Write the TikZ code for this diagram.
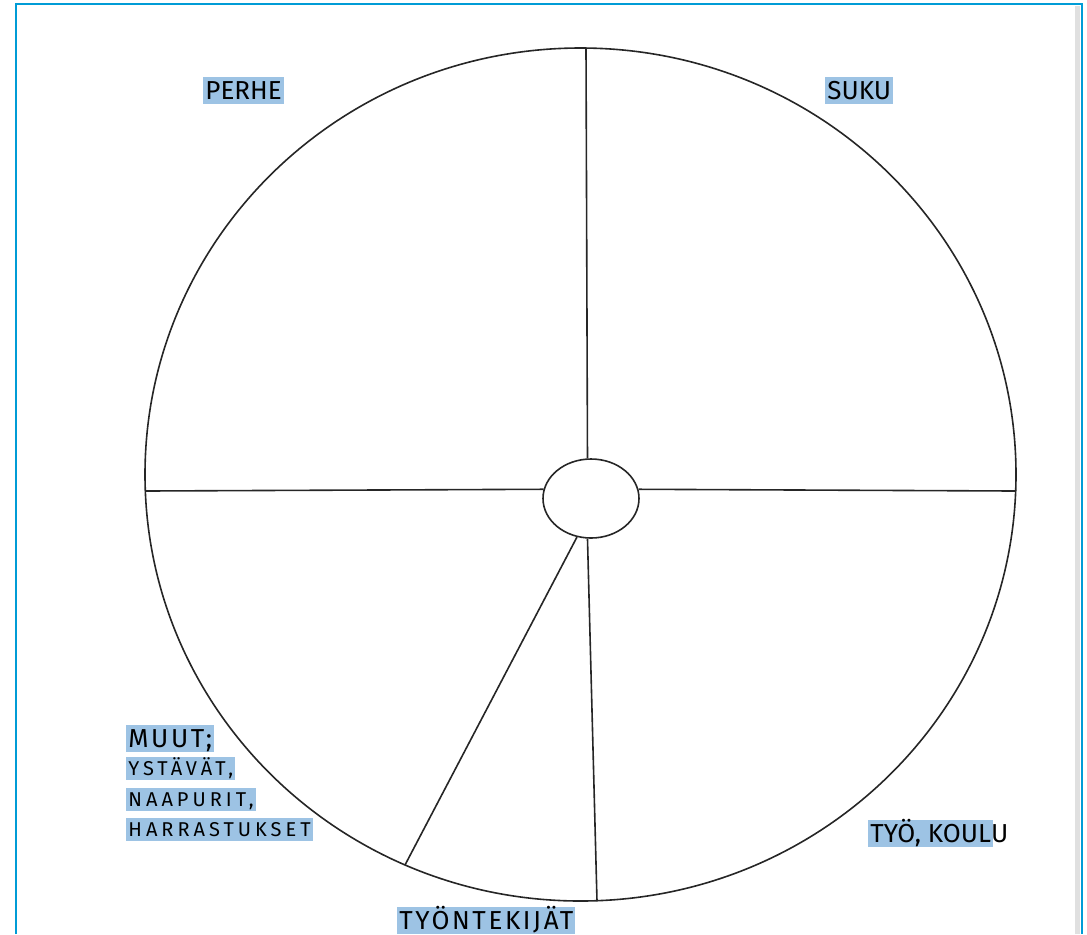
\documentclass[tikz,border=0pt]{standalone}
\usepackage{fontspec}
\setmainfont{Fira Sans}
\newfontfamily\spacedfont[LetterSpace=20]{Fira Sans}
\newfontfamily\widefont[LetterSpace=10]{Fira Sans}
\usetikzlibrary{shapes.geometric}
\definecolor{framecolor}{RGB}{0,156,214}
\definecolor{markcolor}{RGB}{157,195,228}
\tikzset{
    wheel line/.style={black!85,line width=0.8pt},
    hub/.style={ellipse,draw,black!85,line width=0.8pt,minimum width=48pt,minimum height=39.5pt,inner sep=0pt},
    marked/.style={fill=markcolor,anchor=north west,inner xsep=1pt,inner ysep=2.2pt,text height=9pt,text depth=0pt,font=\fontsize{13}{15}\selectfont},
    wide marked/.style={marked,font=\widefont\fontsize{13}{15}\selectfont},
    small marked/.style={marked,text height=6.8pt,font=\spacedfont\fontsize{10}{12}\selectfont},
}

\begin{document}
\begin{tikzpicture}[x=0.5pt,y=-0.5pt]
        \useasboundingbox (0,0) rectangle (1087,934);

        % page frame
        \fill[black!12] (1075,6) rectangle (1080,934);
        \draw[framecolor,line width=1.3pt] (16,934) -- (16,4) -- (1082,4) -- (1082,934);

        % wheel
        \coordinate (O) at (580.5,474.5);
        \coordinate (rimN) at (586,48);
        \coordinate (rimW) at (145,491);
        \coordinate (rimE) at (1016,491);
        \coordinate (rimS) at (597,901);
        \coordinate (rimSW) at (405,865);

        \draw[wheel line] (O) ellipse [x radius=217.75pt, y radius=213.25pt];
        \node[hub] (hub) at (591,498.5) {};
        \draw[wheel line] (hub.95) -- (rimN) (hub.169) -- (rimW) (hub.11) -- (rimE)
            (hub.265) -- (rimS) (hub.250) -- (rimSW);

        \node[marked] (perhe) at (203,77) {PERHE};
        \node[marked] (suku) at (825,77) {SUKU};
        \node[wide marked] (muut) at (126,725) {MUUT;};
        \node[small marked] (ystavat) at (126,757) {YSTÄVÄT,};
        \node[small marked] (naapurit) at (126,788) {NAAPURIT,};
        \node[small marked] (harrastukset) at (126,818) {HARRASTUKSET};
        \node[marked] (tyokoulu) at (868,820) {TYÖ, KOUL\rlap{U}};
        \node[wide marked] (tyontekijat) at (397,907) {TYÖNTEKIJÄT};
\end{tikzpicture}
\end{document}
